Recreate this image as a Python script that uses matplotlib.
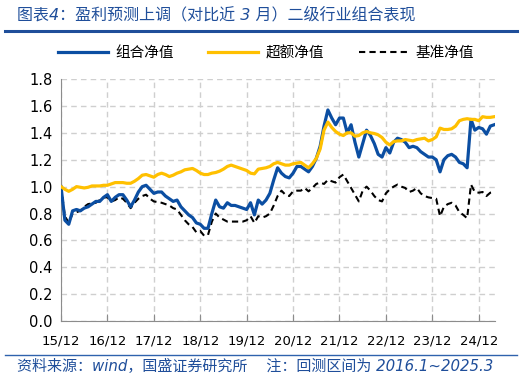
import matplotlib
matplotlib.use('Agg')
import matplotlib.pyplot as plt
from matplotlib.lines import Line2D

plt.rcParams['font.family'] = ['DejaVu Sans', 'Noto Sans CJK SC']

# monthly net values, 2015/12 .. 2025/4 (index 0 = start)
portfolio = [1.00, 0.75, 0.72, 0.82, 0.83, 0.82, 0.84, 0.85, 0.87, 0.89,
             0.89, 0.92, 0.94, 0.89, 0.92, 0.94, 0.94, 0.90, 0.85, 0.90,
             0.96, 1.00, 1.01, 0.98, 0.95, 0.96, 0.96, 0.93, 0.91, 0.89,
             0.90, 0.85, 0.82, 0.79, 0.77, 0.73, 0.72, 0.69, 0.69, 0.80,
             0.90, 0.85, 0.84, 0.88, 0.86, 0.86, 0.85, 0.84, 0.83, 0.88,
             0.79, 0.90, 0.87, 0.90, 0.95, 1.05, 1.14, 1.10, 1.075, 1.065,
             1.10, 1.15, 1.15, 1.13, 1.11, 1.15, 1.21, 1.30, 1.45, 1.57,
             1.51, 1.46, 1.51, 1.51, 1.40, 1.46, 1.33, 1.22, 1.32, 1.42,
             1.38, 1.32, 1.24, 1.22, 1.29, 1.25, 1.33, 1.36, 1.35, 1.33,
             1.29, 1.30, 1.29, 1.26, 1.24, 1.22, 1.22, 1.20, 1.11, 1.20,
             1.23, 1.24, 1.22, 1.18, 1.17, 1.14, 1.50, 1.42, 1.44, 1.43,
             1.39, 1.45, 1.46]

excess = [1.00, 0.98, 0.965, 0.98, 1.00, 0.995, 0.99, 0.995, 1.005, 1.005,
          1.005, 1.01, 1.01, 1.02, 1.03, 1.03, 1.03, 1.025, 1.025, 1.04,
          1.06, 1.085, 1.09, 1.08, 1.07, 1.09, 1.10, 1.09, 1.075, 1.085,
          1.10, 1.11, 1.125, 1.13, 1.135, 1.12, 1.10, 1.09, 1.09, 1.10,
          1.105, 1.115, 1.13, 1.15, 1.16, 1.15, 1.14, 1.13, 1.12, 1.10,
          1.095, 1.13, 1.135, 1.14, 1.15, 1.17, 1.18, 1.17, 1.16, 1.16,
          1.17, 1.175, 1.18, 1.16, 1.14, 1.17, 1.21, 1.28, 1.42, 1.48,
          1.44, 1.41, 1.39, 1.38, 1.40, 1.40, 1.375, 1.38, 1.40, 1.41,
          1.40, 1.395, 1.385, 1.365, 1.33, 1.31, 1.335, 1.34, 1.34, 1.35,
          1.345, 1.34, 1.35, 1.355, 1.36, 1.34, 1.35, 1.37, 1.435, 1.425,
          1.425, 1.43, 1.45, 1.49, 1.50, 1.505, 1.50, 1.50, 1.49, 1.52,
          1.515, 1.515, 1.52]

benchmark = [1.00, 0.78, 0.73, 0.80, 0.81, 0.82, 0.85, 0.87, 0.875, 0.88,
             0.90, 0.92, 0.92, 0.89, 0.90, 0.92, 0.91, 0.88, 0.84, 0.88,
             0.91, 0.93, 0.94, 0.91, 0.89, 0.885, 0.88, 0.87, 0.86, 0.84,
             0.83, 0.79, 0.75, 0.72, 0.70, 0.66, 0.67, 0.635, 0.64, 0.74,
             0.80, 0.77, 0.755, 0.74, 0.74, 0.74, 0.74, 0.74, 0.75, 0.78,
             0.73, 0.78, 0.77, 0.78, 0.80, 0.86, 0.93, 0.97, 0.94, 0.93,
             0.965, 0.97, 0.97, 0.99, 0.965, 0.99, 1.02, 1.03, 1.02, 1.05,
             1.04, 1.03, 1.07, 1.09, 1.04, 0.99, 0.94, 0.89, 0.97, 1.00,
             0.97, 0.93, 0.90, 0.89, 0.95, 0.98, 1.00, 1.015, 1.00, 0.99,
             0.96, 0.97, 0.99, 0.95, 0.93, 0.92, 0.915, 0.91, 0.78, 0.85,
             0.87, 0.88, 0.86, 0.81, 0.79, 0.765, 1.015, 0.96, 0.955, 0.96,
             0.93, 0.955, 0.96]

tick_labels = ['15/12', '16/12', '17/12', '18/12', '19/12',
               '20/12', '21/12', '22/12', '23/12', '24/12']

blue = '#0B4EA2'
gold = '#FFC000'
text_blue = '#1F4E9A'

fig = plt.figure(figsize=(5.26, 3.80), dpi=100)
ax = fig.add_axes([0.116, 0.155, 0.825, 0.637])

x = list(range(len(portfolio)))
ax.plot(x, portfolio, color=blue, lw=2.3, label='组合净值', zorder=3)
ax.plot(x, excess, color=gold, lw=2.3, label='超额净值', zorder=4)
ax.plot(x, benchmark, color='black', lw=1.5, ls=(0, (3, 2)), label='基准净值', zorder=2)

ax.set_xlim(0, 112.2)
ax.set_ylim(0, 1.8)
ax.set_yticks([0.2 * k for k in range(10)])
ax.set_yticklabels([f'{0.2 * k:.1f}' for k in range(10)])
ax.set_xticks(range(0, 12 * len(tick_labels), 12))
ax.set_xticklabels(tick_labels)

ax.grid(True, color='#CFCFCF', ls=(0, (4, 3)), lw=1)
ax.set_axisbelow(True)
for s in ['top', 'right']:
    ax.spines[s].set_visible(False)
ax.spines['left'].set_color('#8C8C8C')
ax.spines['bottom'].set_color('#8C8C8C')
ax.tick_params(axis='y', length=0, labelsize=10.5, pad=6)
ax.tick_params(axis='x', direction='in', length=5, color='#8C8C8C',
               labelsize=9.5, pad=10)

handles = [Line2D([], [], color=blue, lw=2.3),
           Line2D([], [], color=gold, lw=2.3),
           Line2D([], [], color='black', lw=1.5, ls=(0, (3, 2)))]
fig.legend(handles, ['组合净值', '超额净值', '基准净值'], loc='center',
           bbox_to_anchor=(0.506, 0.86), ncol=3, frameon=False,
           handlelength=3.4, handletextpad=0.5, columnspacing=2.4,
           prop={'family': ['Noto Sans CJK SC'], 'size': 10.5})

# header / footer
fig.text(0.032, 0.962, '图表4：盈利预测上调（对比近 3 月）二级行业组合表现',
         color=text_blue, fontsize=11.5, style='italic', va='center', ha='left')
fig.add_artist(Line2D([0.01, 0.983], [0.918, 0.918], color='#1F4E9A', lw=2.2))
fig.add_artist(Line2D([0.01, 0.983], [0.066, 0.066], color='#2F62AD', lw=1.0))
fig.text(0.032, 0.035, '资料来源：wind，国盛证券研究所    注：回测区间为 2016.1~2025.3',
         color=text_blue, fontsize=10.8, style='italic', va='center', ha='left')

fig.savefig('out.png', dpi=100)
